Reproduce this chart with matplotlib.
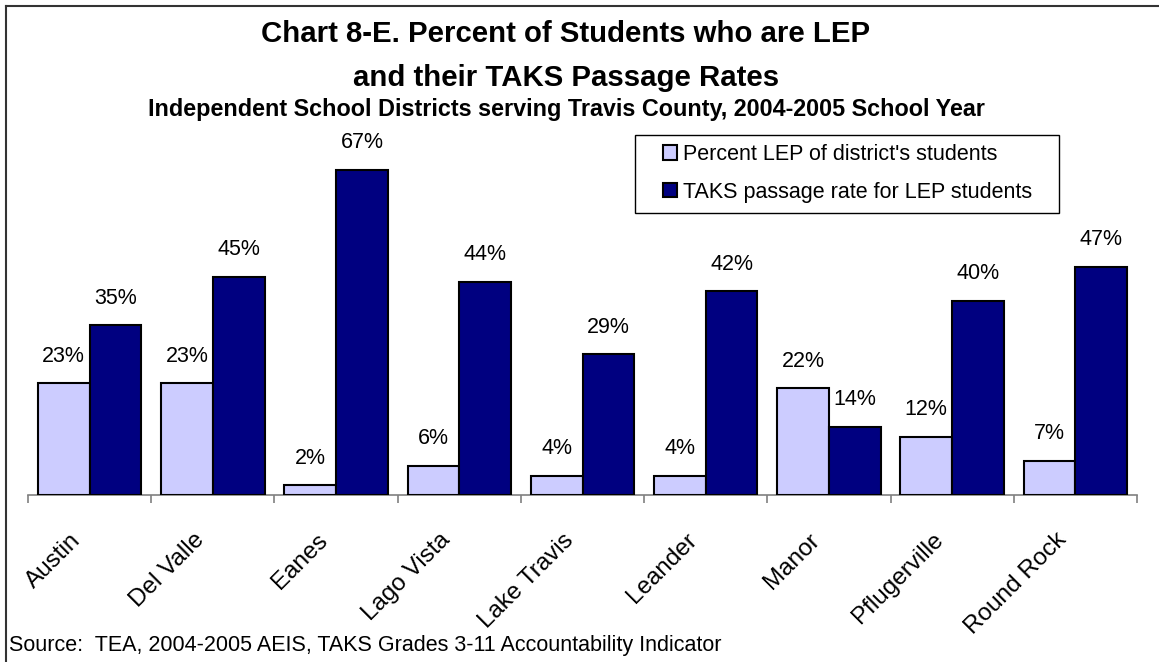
import numpy as np
import matplotlib
matplotlib.use("Agg")
import matplotlib.pyplot as plt
import matplotlib.transforms as mtransforms
from matplotlib.lines import Line2D
from matplotlib.patches import Rectangle

plt.rcParams["font.family"] = ["Liberation Sans", "DejaVu Sans"]

# data
districts = ["Austin", "Del Valle", "Eanes", "Lago Vista", "Lake Travis",
             "Leander", "Manor", "Pflugerville", "Round Rock"]
pct_lep = [23, 23, 2, 6, 4, 4, 22, 12, 7]
taks_rate = [35, 45, 67, 44, 29, 42, 14, 40, 47]

LIGHT = "#CCCCFF"
DARK = "#000080"

W, H = 1159, 662
fig = plt.figure(figsize=(W / 100, H / 100), dpi=100)
fig.patch.set_facecolor("white")

# axes placed in pixel terms
left, right, base = 28, 1137, 495
ppu = 4.85  # pixels per percent
ymax = 80
top = base - ymax * ppu
ax = fig.add_axes([left / W, 1 - base / H, (right - left) / W, (base - top) / H])

x = np.arange(len(districts))
bw = 0.42
b1 = ax.bar(x - bw / 2, pct_lep, bw, color=LIGHT, edgecolor="black", linewidth=1.5,
            label="Percent LEP of district's students", zorder=3)
b2 = ax.bar(x + bw / 2, taks_rate, bw, color=DARK, edgecolor="black", linewidth=1.5,
            label="TAKS passage rate for LEP students", zorder=3)

for bars, vals in ((b1, pct_lep), (b2, taks_rate)):
    for r, v in zip(bars, vals):
        ax.annotate(f"{v}%", xy=(r.get_x() + r.get_width() / 2, v),
                    xytext=(0, 12), textcoords="offset points",
                    ha="center", va="bottom", fontsize=15.5)

ax.set_xlim(-0.5, len(districts) - 0.5)
ax.set_ylim(0, ymax)
ax.set_yticks([])
for s in ("left", "right", "top"):
    ax.spines[s].set_visible(False)
ax.spines["bottom"].set_color("#808080")
ax.spines["bottom"].set_linewidth(1.2)
ax.set_xticks(np.arange(len(districts) + 1) - 0.5)
ax.set_xticklabels([])
ax.tick_params(axis="x", length=6, width=1.2, color="#808080", direction="out")

# rotated category labels
off = mtransforms.ScaledTranslation(-20 / 100, -34 / 100, fig.dpi_scale_trans)
trans = mtransforms.blended_transform_factory(ax.transData, ax.transAxes) + off
for xi, name in zip(x, districts):
    ax.text(xi, 0, name, transform=trans, rotation=45, rotation_mode="anchor",
            ha="right", va="top", fontsize=17.5)

# legend: content placed without frame, frame drawn as its own box
ax.legend(loc="upper left", bbox_to_anchor=(663 / W, 1 - 144 / H),
          bbox_transform=fig.transFigure, fontsize=15.5, frameon=False,
          handlelength=0.65, handleheight=0.65, handletextpad=0.3,
          labelspacing=0.78, borderpad=0, borderaxespad=0)
fig.add_artist(Rectangle((635 / W, 1 - 213 / H), (1059 - 635) / W, (213 - 135) / H,
                         transform=fig.transFigure, fill=False,
                         edgecolor="black", linewidth=1.0))

tx = 566 / W
fig.text(tx, 1 - 34.5 / H, "Chart 8-E. Percent of Students who are LEP",
         ha="center", va="center", fontsize=21.2, fontweight="bold")
fig.text(tx, 1 - 77.5 / H, "and their TAKS Passage Rates",
         ha="center", va="center", fontsize=21.2, fontweight="bold")
fig.text(tx, 1 - 109.5 / H,
         "Independent School Districts serving Travis County, 2004-2005 School Year",
         ha="center", va="center", fontsize=16.8, fontweight="bold")
fig.text(9 / W, 1 - 645 / H,
         "Source:  TEA, 2004-2005 AEIS, TAKS Grades 3-11 Accountability Indicator",
         ha="left", va="center", fontsize=15.5)

# outer chart border (left and top edges visible)
fig.add_artist(Line2D([6 / W, 6 / W], [0, 1 - 6 / H], transform=fig.transFigure,
                      color="#333333", linewidth=1.5))
fig.add_artist(Line2D([6 / W, 1], [1 - 6 / H, 1 - 6 / H], transform=fig.transFigure,
                      color="#333333", linewidth=1.5))

fig.savefig("out.png", dpi=100, facecolor="white")
